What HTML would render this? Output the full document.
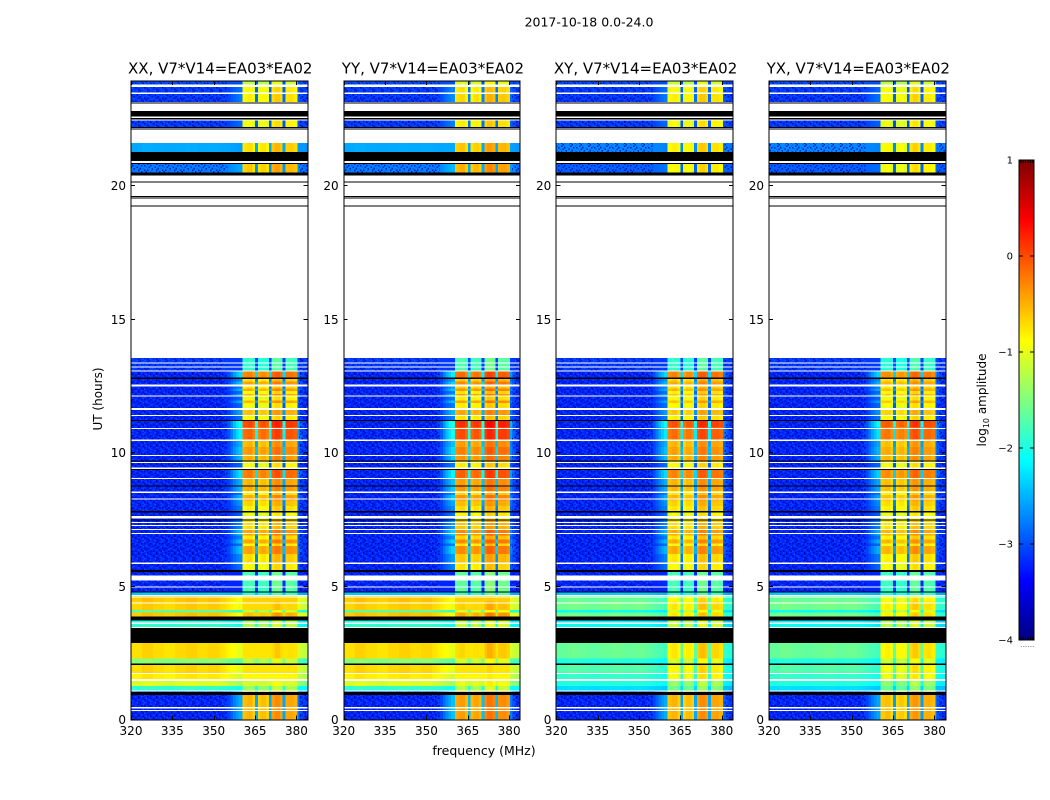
<!DOCTYPE html>
<html lang="en">
<head>
<meta charset="utf-8">
<title>2017-10-18 0.0-24.0</title>
<style>
html,body{margin:0;padding:0;background:#fff;width:1050px;height:800px;overflow:hidden}
svg{display:block;font-family:"DejaVu Sans","Liberation Sans",sans-serif;fill:#000}
</style>
</head>
<body>
<svg id="chart" xmlns="http://www.w3.org/2000/svg" width="1050" height="800" viewBox="0 0 1050 800">
  <defs><pattern id="speckle" patternUnits="userSpaceOnUse" width="18" height="18"></pattern></defs>
  <text x="589" y="26.5" font-size="12.5" text-anchor="middle">2017-10-18 0.0-24.0</text>
  <g id="panels"></g>
  <text transform="translate(102,399) rotate(-90)" font-size="12" text-anchor="middle">UT (hours)</text>
  <text x="484" y="755" font-size="12.5" text-anchor="middle">frequency (MHz)</text>
  <g id="colorbar"></g>
  <text transform="translate(986,400) rotate(-90)" font-size="12" text-anchor="middle">log<tspan font-size="8" dy="3">10</tspan><tspan dy="-3"> amplitude</tspan></text>
</svg>
<script>
/* ---------- data ---------- */
const panelTitles = ["XX, V7*V14=EA03*EA02", "YY, V7*V14=EA03*EA02", "XY, V7*V14=EA03*EA02", "YX, V7*V14=EA03*EA02"];
const panelIsCross = [false, false, true, true];
const panelHighOffset = [0, 0.12, 0, -0.05];
const xTickValues = [320, 335, 350, 365, 380];
const yTickValues = [0, 5, 10, 15, 20];
const cbarTickValues = [1, 0, -1, -2, -3, -4];
const cbarTickLabels = ["1", "0", "\u22121", "\u22122", "\u22123", "\u22124"];

/* channel edges in MHz */
const channelEdges = [320,324,328,332,336,340,344,348,352,353,354,355,356,357,358,359,360.4,361,362,363,364,365,366,367,368,369,370,371,372,373,374,375,376,377,378,379,380.4,381,382,383,384];
/* log10 offset per band channel relative to the row's high level; null = outside the band */
const bandOffset = [null,null,null,null,null,null,null,null,null,null,null,null,null,null,null,null,
  -0.05,0,0.05,0.05,-0.1,-2.0,-0.1,0,0,-0.1,-2.0,0.15,0.25,0.25,0.15,-2.0,0.1,0.12,0.12,0.05,
  null,null,null,null];
/* how far outside-band channels rise toward the band skirt */
const skirtWeight = [0,0,0,0,0,0,0,0,0,0.05,0.1,0.2,0.4,0.6,0.75,0.9,
  0,0,0,0,0,0,0,0,0,0,0,0,0,0,0,0,0,0,0,0,
  0.5,0.3,0.15,0.05];
/* bright-row spectral shape outside the band */
const lowProfile = [0.02,0.1,0.04,0,0.06,0.1,0.04,0.08,0.02,0,-0.04,-0.08,-0.12,-0.16,-0.2,-0.26,
  0,0,0,0,0,0,0,0,0,0,0,0,0,0,0,0,0,0,0,0,
  -0.3,-0.35,-0.4,-0.45];

/* [start h, end h, low parallel, low cross, high parallel, high cross] */
const timeRows = [
  [0,1.05,-3.2,-3.2,-0.55,-0.55],
  [1.05,1.25,-1.9,-2.3,-1.4,-1.6],
  [1.25,1.5,-1.1,-2.0,-1.15,-1.4],
  [1.5,1.72,-0.85,-1.9,-1.15,-0.95],
  [1.72,2.05,-0.75,-1.75,-1.05,-0.9],
  [2.05,2.28,-1.5,-2.0,-1.25,-1.1],
  [2.28,2.87,-0.75,-1.65,-0.85,-0.8],
  [3.42,3.6,-1.9,-2.1,-1.3,-1.2],
  [3.6,3.7,-2.0,-2.2,-1.35,-1.25],
  [3.85,4.0,-0.65,-1.6,-0.6,-0.8],
  [4.0,4.1,-1.7,-2.1,-1.2,-1.1],
  [4.1,4.42,-0.7,-1.6,-0.8,-0.8],
  [4.42,4.65,-0.65,-1.65,-1.0,-0.9],
  [4.65,4.77,-2.4,-2.4,-1.9,-1.9],
  [4.77,5.55,-3.2,-3.2,-1.8,-1.8],
  [5.55,5.85,-3.2,-3.2,-0.9,-0.9],
  [5.85,6.2,-3.2,-3.2,-0.75,-0.8],
  [6.2,6.5,-3.2,-3.2,-0.45,-0.5],
  [6.5,6.6,-3.2,-3.2,-0.9,-0.9],
  [6.6,6.75,-3.2,-3.2,-0.45,-0.5],
  [6.75,6.9,-3.2,-3.2,-0.8,-0.8],
  [6.9,7.1,-3.2,-3.2,-0.45,-0.5],
  [7.1,7.45,-3.2,-3.2,-0.75,-0.75],
  [7.45,7.78,-3.2,-3.2,-1.0,-0.95],
  [7.78,8.0,-3.2,-3.2,-0.85,-0.8],
  [8.0,8.2,-3.2,-3.2,-0.7,-0.7],
  [8.2,8.4,-3.2,-3.2,-0.5,-0.55],
  [8.4,8.55,-3.2,-3.2,-0.85,-0.8],
  [8.55,8.75,-3.2,-3.2,-0.5,-0.55],
  [8.75,9.0,-3.2,-3.2,-0.55,-0.55],
  [9.0,9.36,-3.2,-3.2,-0.25,-0.3],
  [9.36,9.7,-3.2,-3.2,-0.95,-0.9],
  [9.7,9.95,-3.2,-3.2,-0.5,-0.5],
  [9.95,10.2,-3.2,-3.2,-0.4,-0.45],
  [10.2,10.45,-3.2,-3.2,-0.55,-0.55],
  [10.45,10.95,-3.2,-3.2,-0.15,-0.2],
  [10.95,11.2,-3.2,-3.2,0,-0.05],
  [11.2,11.38,-3.2,-3.2,-0.9,-0.85],
  [11.38,11.66,-3.2,-3.2,-0.6,-0.65],
  [11.66,11.85,-3.2,-3.2,-0.95,-0.9],
  [11.85,11.95,-3.2,-3.2,-0.55,-0.6],
  [11.95,12.14,-3.2,-3.2,-0.95,-0.9],
  [12.14,12.2,-3.2,-3.2,-0.55,-0.6],
  [12.2,12.3,-3.2,-3.2,-0.9,-0.85],
  [12.3,12.4,-3.2,-3.2,-0.5,-0.55],
  [12.4,12.55,-3.2,-3.2,-0.8,-0.75],
  [12.55,12.65,-3.2,-3.2,-0.45,-0.5],
  [12.65,12.8,-3.2,-3.2,-0.75,-0.7],
  [12.8,13.03,-3.2,-3.2,-0.3,-0.3],
  [13.03,13.54,-3.1,-3.1,-1.9,-1.9],
  [20.48,20.8,-2.75,-2.9,-0.65,-0.9],
  [21.25,21.59,-2.55,-2.7,-0.75,-0.85],
  [22.2,22.43,-3.1,-3.1,-0.95,-0.95],
  [23.12,23.43,-3.1,-3.1,-0.85,-0.85],
  [23.43,23.68,-3.1,-3.1,-0.9,-0.9],
  [23.79,23.92,-3.0,-3.0,-1.2,-1.2]
];
/* flagged (white) and zero (black) time bands: [start h, end h] */
const flaggedBands = [[0.33,0.36],[0.41,0.47],[1.05,1.08],[1.45,1.51],[1.7,1.75],[2.87,2.92],[3.42,3.47],[3.58,3.63],[4.34,4.39],[4.56,4.6],[4.63,4.66],[4.94,4.98],[5.2,5.4],[5.83,5.88],[6.96,6.99],[7.11,7.14],[7.25,7.28],[7.36,7.39],[7.52,7.62],[8.24,8.28],[8.49,8.53],[9.01,9.05],[9.39,9.43],[9.61,9.65],[9.87,9.91],[10.44,10.48],[10.88,10.92],[11.36,11.4],[11.6,11.66],[12.11,12.14],[12.49,12.51],[12.53,12.55],[13.03,13.07],[13.18,13.22],[13.33,13.37],[20.85,20.92],[23.43,23.48]];
const zeroBands = [[0.92,1.03],[2.05,2.09],[2.87,3.42],[3.7,3.85],[4.75,4.79],[5.52,5.6],[7.45,7.49],[7.76,7.8],[8.73,8.77],[9.34,9.38],[9.66,9.7],[11.18,11.22],[12.76,12.8],[19.21,19.25],[19.51,19.55],[19.57,19.61],[20.11,20.15],[20.37,20.48],[20.8,20.84],[20.92,21.25],[22.1,22.13],[22.17,22.2],[22.47,22.53],[22.58,22.79],[23.07,23.11]];
/* speckle texture for the noise floor */
const speckleRows = ["l..d...l.d..","..d.l...d..l","d...d.l...d.",".l.d...d.l..","..l..d...d.l","d.d..l..d...",".d..l...l.d.","l...d.d....d","..d...l.d.l.",".l..d...d..d","d..l..d.l...","..d.l...d..l"];
const cbarEdgeFractions = [0.12,0.28,0.44,0.6,0.76,0.92];

/* ---------- scales ---------- */
const NS = "http://www.w3.org/2000/svg";
const panelLefts = [131, 343.67, 556.33, 769];
const panelWidth = 176.5;
const freqMin = 320, freqMax = 384;
const plotTop = 81, plotBottom = 719.5, pxPerHour = 26.7;
function xScale(panel, f){ return panelLefts[panel] + (f - freqMin) / (freqMax - freqMin) * panelWidth; }
function yScale(h){ return Math.max(plotTop, plotBottom - h * pxPerHour); }
const cbarTop = 160, cbarBottom = 640, cbarLeft = 1019, cbarRight = 1034;
function cbarScale(v){ return cbarBottom - (v + 4) / 5 * (cbarBottom - cbarTop); }
function clamp01(a){ return Math.max(0, Math.min(1, a)); }
function jet(value){
  const v = clamp01((value + 4) / 5);
  const r = clamp01(Math.min(4 * v - 1.5, -4 * v + 4.5));
  const g = clamp01(Math.min(4 * v - 0.5, -4 * v + 3.5));
  const b = clamp01(Math.min(4 * v + 0.5, -4 * v + 2.5));
  return "rgb(" + Math.round(r * 255) + "," + Math.round(g * 255) + "," + Math.round(b * 255) + ")";
}
function make(tag, attrs, parent){
  const el = document.createElementNS(NS, tag);
  for (const k in attrs) el.setAttribute(k, attrs[k]);
  parent.appendChild(el);
  return el;
}
function cellValue(row, cross, panel, c){
  const low = cross ? row[3] : row[2];
  const high = (cross ? row[5] : row[4]) + panelHighOffset[panel];
  if (bandOffset[c] !== null) return Math.max(high + bandOffset[c], low);
  const shaped = low + lowProfile[c] * clamp01((low + 3) / 2);
  const skirt = high - 1.9;
  return shaped + skirtWeight[c] * Math.max(0, skirt - shaped);
}

/* ---------- speckle ---------- */
const speckle = document.getElementById("speckle");
speckleRows.forEach(function(line, j){
  line.split("").forEach(function(ch, i){
    if (ch === ".") return;
    const dot = make("rect", {x: i * 1.5, y: j * 1.5, width: 1.5, height: 1.5,
      fill: ch === "d" ? "rgb(0,0,150)" : "rgb(0,90,255)", "fill-opacity": 0.75}, speckle);
    
    
  });
});

/* ---------- panels ---------- */
const panelsRoot = document.getElementById("panels");
panelTitles.forEach(function(title, p){
  const g = make("g", {"shape-rendering": "crispEdges"}, panelsRoot);
  
  
  const cross = panelIsCross[p];
  const right = panelLefts[p] + panelWidth;

  timeRows.forEach(function(row){
    const y1 = yScale(row[1]), y0 = yScale(row[0]);
    for (let c = 0; c < channelEdges.length - 1; c++){
      const x0 = xScale(p, channelEdges[c]), x1 = xScale(p, channelEdges[c + 1]);
      const cell = make("rect", {x: x0, y: y1, width: x1 - x0, height: y0 - y1, fill: jet(cellValue(row, cross, p, c))}, g);
      
      
    }
    const low = cross ? row[3] : row[2];
    if (low < -2.65){
      const xs = xScale(p, 320), xe = xScale(p, 355);
      const tex = make("rect", {x: xs, y: y1, width: xe - xs, height: y0 - y1, fill: "url(#speckle)"}, g);
      
      
      const xr = xScale(p, 381), xrEnd = xScale(p, 384);
      const texRight = make("rect", {x: xr, y: y1, width: xrEnd - xr, height: y0 - y1, fill: "url(#speckle)"}, g);
      
      
    }
  });
  flaggedBands.forEach(function(b){
    const y1 = yScale(b[1]), y0 = yScale(b[0]);
    const w = make("rect", {x: panelLefts[p], y: y1, width: panelWidth, height: Math.max(1, y0 - y1), fill: "#fff"}, g);
    
    
  });
  zeroBands.forEach(function(b){
    const y1 = yScale(b[1]), y0 = yScale(b[0]);
    const k = make("rect", {x: panelLefts[p], y: y1, width: panelWidth, height: Math.max(1, y0 - y1), fill: "#000"}, g);
    
    
  });

  const frame = make("rect", {x: Math.round(panelLefts[p]) , y: plotTop, width: Math.round(right) - Math.round(panelLefts[p]), height: Math.round(plotBottom) - plotTop, fill: "none", stroke: "#000", "stroke-width": 1, "shape-rendering": "auto"}, g);
  
  

  xTickValues.forEach(function(v){
    const x = Math.round(xScale(p, v)) + 0.5;
    const t1 = make("line", {x1: x, x2: x, y1: plotBottom, y2: plotBottom - 4, stroke: "#000"}, g);
    
    
    const t2 = make("line", {x1: x, x2: x, y1: plotTop, y2: plotTop + 4, stroke: "#000"}, g);
    
    
    const lab = make("text", {x: xScale(p, v), y: 735, "font-size": 12, "text-anchor": "middle", "shape-rendering": "auto"}, g);
    
    
    lab.textContent = String(v);
  });
  yTickValues.forEach(function(v){
    const y = Math.round(yScale(v) - 0.5) + 0.5;
    const t1 = make("line", {x1: panelLefts[p], x2: panelLefts[p] + 4, y1: y, y2: y, stroke: "#000"}, g);
    
    
    const t2 = make("line", {x1: right, x2: right - 4, y1: y, y2: y, stroke: "#000"}, g);
    
    
    const lab = make("text", {x: panelLefts[p] - 5, y: y + 4.5, "font-size": 12, "text-anchor": "end"}, g);
    
    
    lab.textContent = String(v);
  });
  const head = make("text", {x: panelLefts[p] + panelWidth / 2 + 1, y: 73.5, "font-size": 15, "text-anchor": "middle"}, g);
  
  
  head.textContent = title;
});

/* ---------- colorbar ---------- */
const cbarRoot = document.getElementById("colorbar");
for (let i = 0; i < 256; i++){
  const v0 = -4 + 5 * i / 256, v1 = -4 + 5 * (i + 1) / 256;
  const seg = make("rect", {x: cbarLeft, y: cbarScale(v1), width: cbarRight - cbarLeft, height: cbarScale(v0) - cbarScale(v1) + 0.5, fill: jet((v0 + v1) / 2), "shape-rendering": "crispEdges"}, cbarRoot);
  
  
}
const cbarFrame = make("rect", {x: cbarLeft, y: cbarTop, width: cbarRight - cbarLeft, height: cbarBottom - cbarTop, fill: "none", stroke: "#000"}, cbarRoot);


cbarTickValues.forEach(function(v, i){
  const y = Math.round(cbarScale(v));
  if (v > -4 && v < 1){
    const t1 = make("line", {x1: cbarLeft, x2: cbarLeft + 4, y1: y, y2: y, stroke: "#000"}, cbarRoot);
    
    
    const t2 = make("line", {x1: cbarRight, x2: cbarRight - 4, y1: y, y2: y, stroke: "#000"}, cbarRoot);
    
    
  }
  const lab = make("text", {x: 1013, y: y + 3.5, "font-size": 10, "text-anchor": "end"}, cbarRoot);
  
  
  lab.textContent = cbarTickLabels[i];
});
cbarEdgeFractions.forEach(function(f){
  const x = cbarLeft + f * (cbarRight - cbarLeft);
  const top = make("line", {x1: x, x2: x, y1: cbarTop, y2: cbarTop + 3, stroke: "#000"}, cbarRoot);
  
  
  const bot = make("line", {x1: x, x2: x, y1: cbarBottom, y2: cbarBottom - 3, stroke: "#000"}, cbarRoot);
  
  
  const dot = make("rect", {x: x, y: 646, width: 1, height: 1, fill: "#888"}, cbarRoot);
  
  
});
</script>
</body>
</html>
